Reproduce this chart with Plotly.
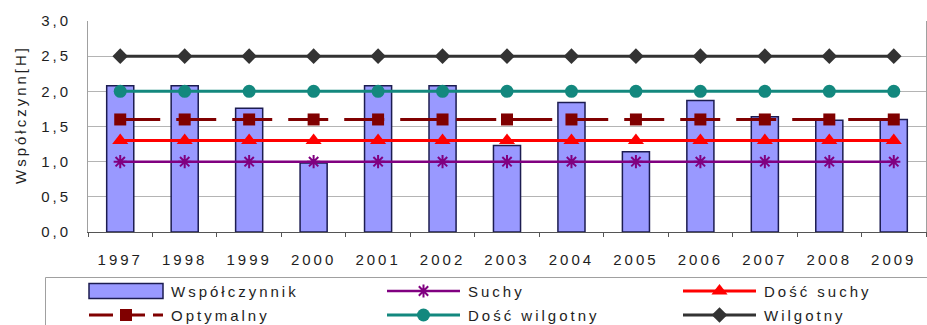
import plotly.graph_objects as go

# --- data -----------------------------------------------------------------
years = ["1997", "1998", "1999", "2000", "2001", "2002", "2003",
         "2004", "2005", "2006", "2007", "2008", "2009"]
wspolczynnik = [2.08, 2.08, 1.76, 0.98, 2.08, 2.08, 1.23,
                1.84, 1.14, 1.87, 1.64, 1.59, 1.60]
suchy = [1.0, 1.0, 1.0, 1.0, 1.0, 1.0, 1.0, 1.0, 1.0, 1.0, 1.0, 1.0, 1.0]
dosc_suchy = [1.3, 1.3, 1.3, 1.3, 1.3, 1.3, 1.3, 1.3, 1.3, 1.3, 1.3, 1.3, 1.3]
optymalny = [1.6, 1.6, 1.6, 1.6, 1.6, 1.6, 1.6, 1.6, 1.6, 1.6, 1.6, 1.6, 1.6]
dosc_wilgotny = [2.0, 2.0, 2.0, 2.0, 2.0, 2.0, 2.0, 2.0, 2.0, 2.0, 2.0, 2.0, 2.0]
wilgotny = [2.5, 2.5, 2.5, 2.5, 2.5, 2.5, 2.5, 2.5, 2.5, 2.5, 2.5, 2.5, 2.5]

y_ticks = [0.0, 0.5, 1.0, 1.5, 2.0, 2.5, 3.0]
y_title = "Współczynn[H]"

W, H = 927, 325
FONT = "Liberation Sans, Arial, sans-serif"
TXT = "#1e1e1e"

BAR_FILL = "#9999ff"
BAR_EDGE = "#1c1c50"

# line series: name, values, colour, width, dash, marker symbol, marker size
line_series = [
    ("Suchy", suchy, "#800080", 2.5, "solid", "asterisk-open", 11),
    ("Dość suchy", dosc_suchy, "#ff0000", 3, "solid", "triangle-up", 14),
    ("Optymalny", optymalny, "#800000", 3, "40px,16px", "square", 12),
    ("Dość wilgotny", dosc_wilgotny, "#13887e", 3, "solid", "circle", 13),
    ("Wilgotny", wilgotny, "#333333", 3, "solid", "diamond", 12),
]

fig = go.Figure()

fig.add_trace(go.Bar(
    x=years, y=wspolczynnik, name="Współczynnik",
    marker=dict(color=BAR_FILL, line=dict(color=BAR_EDGE, width=1.5)),
    showlegend=False,
))

for name, vals, col, lw, dash, sym, ms in line_series:
    mline = dict(color=col, width=2) if sym == "asterisk-open" else dict(width=0)
    fig.add_trace(go.Scatter(
        x=years, y=vals, name=name, mode="lines+markers",
        line=dict(color=col, width=lw, dash=dash),
        marker=dict(symbol=sym, size=ms, color=col, line=mline),
        showlegend=False,
    ))

# --- hand-built legend on a pixel overlay axis ----------------------------
legend_items = [
    ("Współczynnik", None),
    ("Suchy", line_series[0]),
    ("Dość suchy", line_series[1]),
    ("Optymalny", line_series[2]),
    ("Dość wilgotny", line_series[3]),
    ("Wilgotny", line_series[4]),
]
col_x = [(89, 163), (387, 460), (683, 756)]
row_y = [291, 315]

shapes = [dict(type="rect", xref="x2", yref="y2", x0=45.5, y0=277.5,
               x1=960, y1=360, line=dict(color="#a0a0a0", width=1),
               fillcolor="rgba(0,0,0,0)")]
annotations = []

for i, (label, spec) in enumerate(legend_items):
    x0, x1 = col_x[i % 3]
    yc = row_y[i // 3]
    if spec is None:
        shapes.append(dict(type="rect", xref="x2", yref="y2",
                           x0=x0, x1=x1, y0=yc - 7.5, y1=yc + 7.5,
                           fillcolor=BAR_FILL,
                           line=dict(color=BAR_EDGE, width=1.5)))
    else:
        _, _, col, lw, dash, sym, ms = spec
        fig.add_trace(go.Scatter(
            x=[x0, x1], y=[yc, yc], xaxis="x2", yaxis="y2", mode="lines",
            line=dict(color=col, width=lw,
                      dash="24px,8px" if dash != "solid" else "solid"),
            showlegend=False, hoverinfo="skip"))
        mline = dict(color=col, width=2) if sym == "asterisk-open" else dict(width=0)
        fig.add_trace(go.Scatter(
            x=[(x0 + x1) / 2], y=[yc], xaxis="x2", yaxis="y2", mode="markers",
            marker=dict(symbol=sym, size=ms, color=col, line=mline),
            showlegend=False, hoverinfo="skip"))
    annotations.append(dict(
        xref="x2", yref="y2", x=x1 + 6, y=yc, text=label, showarrow=False,
        xanchor="left", yanchor="middle",
        font=dict(family=FONT, size=15, color=TXT)))

# y-axis title
annotations.append(dict(
    xref="x2", yref="y2", x=20, y=134, text=y_title, showarrow=False,
    textangle=-90, xanchor="center", yanchor="middle",
    font=dict(family=FONT, size=15, color=TXT)))

fig.update_layout(
    width=W, height=H,
    margin=dict(l=0, r=0, t=0, b=0, autoexpand=False),
    paper_bgcolor="white", plot_bgcolor="rgba(0,0,0,0)",
    separators=", ",
    bargap=0.58,
    font=dict(family=FONT, size=15, color=TXT),
    xaxis=dict(
        domain=[88 / W, 926 / W],
        automargin=False,
        type="category",
        range=[-0.5, len(years) - 0.5],
        tickson="boundaries",
        ticks="outside", ticklen=4, tickcolor="#555555",
        showline=True, linecolor="#555555", linewidth=1,
        showgrid=False,
        ticklabelstandoff=14,
        tickfont=dict(family=FONT, size=15, color=TXT),
    ),
    yaxis=dict(
        domain=[(H - 232) / H, (H - 21) / H],
        automargin=False,
        range=[0, 3],
        tickvals=y_ticks,
        tickformat=".1f",
        showgrid=True, gridcolor="#b4b4b4", gridwidth=1,
        showline=True, linecolor="#a0a0a0", linewidth=1, mirror=True,
        zeroline=False,
        ticks="",
        ticklabelstandoff=13,
        tickfont=dict(family=FONT, size=15, color=TXT),
    ),
    xaxis2=dict(domain=[0, 1], range=[0, W], visible=False, fixedrange=True,
                anchor="y2", automargin=False),
    yaxis2=dict(domain=[0, 1], range=[H, 0], visible=False, fixedrange=True,
                anchor="x2", automargin=False),
    shapes=shapes,
    annotations=annotations,
    showlegend=False,
)

# wide letter spacing for all chart text; left-anchored annotation labels
# are shifted back so they still start where they were placed
spacing_js = """
var gd = document.getElementById('{plot_id}');
gd.querySelectorAll('text').forEach(function(t){
  var before = t.getComputedTextLength();
  t.style.letterSpacing = '3px';
  var after = t.getComputedTextLength();
  var g = t.closest('.annotation-text-g');
  if (g && !t.getAttribute('transform')) {
    var x = parseFloat(t.getAttribute('x')) || 0;
    t.setAttribute('x', x + (after - before) / 2);
  }
});
"""

fig.write_html("out.html", post_script=spacing_js)
